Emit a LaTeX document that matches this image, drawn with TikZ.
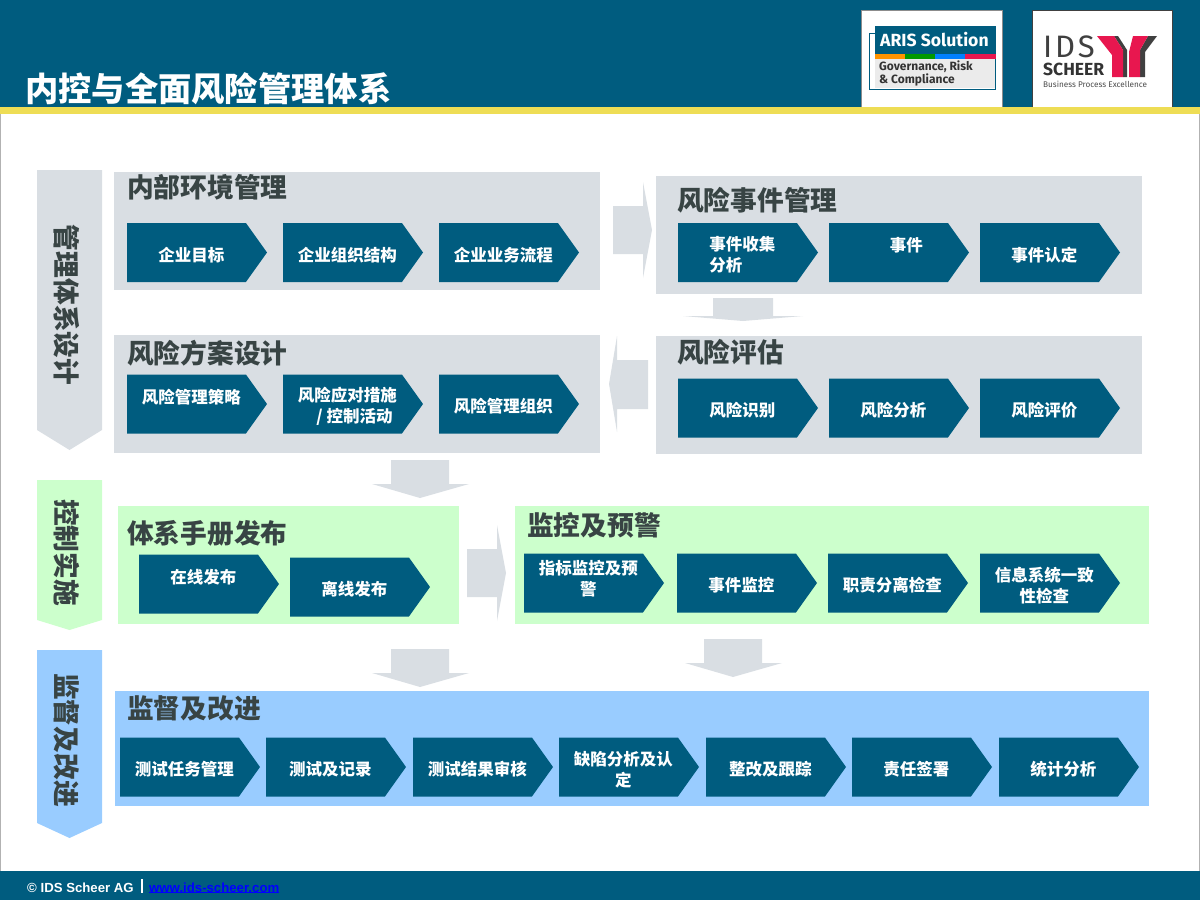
\documentclass[tikz,border=0pt]{standalone}
\usepackage{fontspec}
\setmainfont{Noto Sans CJK SC}
\newfontfamily\latinfont{Liberation Sans}
\newfontfamily\logofont{Fira Sans}
\newfontfamily\idsfont[LetterSpace=9]{Fira Sans}
\usetikzlibrary{shapes.symbols}
\definecolor{teal}{HTML}{005C7F}
\definecolor{palegray}{HTML}{D9DEE3}
\definecolor{palegreen}{HTML}{CCFFCC}
\definecolor{paleblue}{HTML}{99CCFF}
\definecolor{barline}{HTML}{EEDD55}
\definecolor{headtext}{HTML}{384444}
\definecolor{logopink}{HTML}{E8174F}
\tikzset{
	stepbox/.style={shape=signal,signal to=east,signal from=nowhere,signal pointer angle=109,fill=teal,text=white,anchor=west,
		minimum width=140pt,minimum height=59pt,inner sep=0pt,outer sep=0pt,text width=110pt,align=flush center,
		font=\fontsize{16.5}{21}\selectfont\bfseries,execute at begin node={\leftskip=10pt plus 1fil\rule{0pt}{19pt}}},
	headline/.style={anchor=west,inner sep=0pt,text=headtext,font=\fontsize{26.7}{30}\selectfont\bfseries},
	sidelabel/.style={rotate=-90,inner sep=0pt,text=headtext,font=\fontsize{26.7}{30}\selectfont\bfseries}
}
\begin{document}
\begin{tikzpicture}[x=1pt,y=-1pt]
	\useasboundingbox (0,0) rectangle (1200,900);
	% top and bottom bars
	\fill [teal] (0,0) rectangle (1200,107);
	\fill [barline] (0,107) rectangle (1200,114);
	\fill [teal] (0,871) rectangle (1200,900);
	\draw [black!30] (0.5,114) -- (0.5,871);
	\draw [black!30] (1199.5,114) -- (1199.5,871);
	\node (title) [anchor=west,inner sep=0pt,text=white,font=\fontsize{33.3}{36}\selectfont\bfseries] at (25,89) {内控与全面风险管理体系};
	
	% logos
	\fill [white] (861,10) rectangle (1002,107);
	\draw [black!45] (861,107) -- (861,10) -- (1002,10) -- (1002,107);
	\fill [white] (1032,10) rectangle (1172,107);
	\draw [black!75] (1032,107) -- (1032,10) -- (1172,10) -- (1172,107);
	\draw [teal,fill=white] (869,33) rectangle (995,89);
	\fill [teal] (875,26) rectangle (996,54);
	\fill [orange!85!yellow] (875,54) rectangle (905,59);
	\fill [green!60!black] (905,54) rectangle (935,59);
	\fill [blue!50!cyan] (935,54) rectangle (965,59);
	\fill [logopink] (965,54) rectangle (996,59);
	\fill [black!8] (875,59) rectangle (995,88);
	\node (aris) [anchor=west,inner sep=0pt,text=white,font=\logofont\fontsize{17.6}{18}\selectfont\bfseries] at (880,40) {ARIS Solution};
	\node (grc) [anchor=north west,inner sep=0pt,text=black!80,align=left,font=\logofont\fontsize{12}{13}\selectfont\bfseries] at (879,61) {Governance, Risk\\\& Compliance};
	\node (ids) [anchor=south west,inner sep=0pt,text height=21pt,text depth=0pt,text=black!75,font=\idsfont\fontsize{31}{31}\selectfont] at (1043,58) {IDS};
	\node (scheer) [anchor=north west,inner sep=0pt,text height=12pt,text depth=0pt,text=black!80,font=\logofont\fontsize{17.5}{18}\selectfont\bfseries] at (1043,63) {SCHEER};
	\node (bpe) [anchor=west,inner sep=0pt,text=black!70,font=\logofont\fontsize{8.2}{9}\selectfont] at (1043,84) {Business Process Excellence};
	\fill [black!75] (1114,36) -- (1118,36) -- (1127,50) -- (1127,77) -- (1123,77) -- (1123,50) -- cycle;
	\fill [black!75] (1148,36) -- (1157,36) -- (1145,52) -- (1145,77) -- (1140,77) -- (1140,50) -- cycle;
	\fill [logopink] (1097,36) -- (1114,36) -- (1123,50) -- (1123,77) -- (1112,77) -- (1112,55) -- cycle;
	\fill [logopink] (1133,36) -- (1148,36) -- (1140,50) -- (1140,77) -- (1129,77) -- (1129,52) -- cycle;
	
	% side arrows
	\fill [palegray] (37,170) -- (102,170) -- (102,430) -- (69.5,450) -- (37,430) -- cycle;
	\fill [palegreen] (37,480) -- (102,480) -- (102,620) -- (69.5,630) -- (37,620) -- cycle;
	\fill [paleblue] (37,650) -- (102,650) -- (102,823) -- (69.5,838) -- (37,823) -- cycle;
	\node (s1) [sidelabel] at (67,305) {管理体系设计};
	\node (s2) [sidelabel] at (67,552.5) {控制实施};
	\node (s3) [sidelabel] at (67,740) {监督及改进};
	
	% panels
	\fill [palegray] (114,172) rectangle (600,290);
	\fill [palegray] (656,176) rectangle (1142,294);
	\fill [palegray] (114,335) rectangle (600,453);
	\fill [palegray] (656,336) rectangle (1142,454);
	\fill [palegreen] (118,506) rectangle (459,624);
	\fill [palegreen] (515,506) rectangle (1149,624);
	\fill [paleblue] (115,691) rectangle (1149,806);
	
	% block arrows
	\fill [palegray] (613,206) -- (643,206) -- (643,182) -- (652,230) -- (643,278) -- (643,254) -- (613,254) -- cycle;
	\fill [palegray] (713,298) -- (773,298) -- (773,316) -- (803,316) -- (743,321) -- (683,316) -- (713,316) -- cycle;
	\fill [palegray] (648,360) -- (617,360) -- (617,336) -- (609,384) -- (617,432) -- (617,409) -- (648,409) -- cycle;
	\fill [palegray] (391,460) -- (449,460) -- (449,484) -- (469,484) -- (420,498) -- (372,484) -- (391,484) -- cycle;
	\fill [palegray] (467,549) -- (497,549) -- (497,525) -- (506,573) -- (497,621) -- (497,597) -- (467,597) -- cycle;
	\fill [palegray] (391,649) -- (449,649) -- (449,673) -- (469,673) -- (420,687) -- (372,673) -- (391,673) -- cycle;
	\fill [palegray] (704,639) -- (762,639) -- (762,663) -- (782,663) -- (733,677) -- (685,663) -- (704,663) -- cycle;
	
	% headings
	\node (h1) [headline] at (127,187) {内部环境管理};
	\node (h2) [headline] at (677,200) {风险事件管理};
	\node (h3) [headline] at (127,353) {风险方案设计};
	\node (h4) [headline] at (677,352) {风险评估};
	\node (h5) [headline] at (127,533) {体系手册发布};
	\node (h6) [headline] at (527,525) {监控及预警};
	\node (h7) [headline] at (127,708) {监督及改进};
	
	% steps
	\node (a1) [stepbox] at (127,252.5) {企业目标};
	\node (a2) [stepbox] at (283,252.5) {企业组织结构};
	\node (a3) [stepbox] at (439,252.5) {企业业务流程};
	\node (b1) [stepbox] at (678,252.5) {事件收集\\分析\hspace*{2em}};
	\node (b2) [stepbox] at (829,252.5) {\hspace*{26pt}事件\\\mbox{}};
	\node (b3) [stepbox] at (980,252.5) {事件认定};
	\node (c1) [stepbox] at (127,404) {风险管理策略\\\mbox{}};
	\node (c2) [stepbox] at (283,404) {风险应对措施\\\hspace*{14pt}/ 控制活动};
	\node (c3) [stepbox] at (439,404) {风险管理组织};
	\node (d1) [stepbox] at (678,408) {风险识别};
	\node (d2) [stepbox] at (829,408) {风险分析};
	\node (d3) [stepbox] at (980,408) {风险评价};
	\node (e1) [stepbox] at (139,584) {在线发布\\\mbox{}};
	\node (e2) [stepbox] at (290,587) {离线发布};
	\node (f1) [stepbox] at (524,583) {指标监控及预\\警\\[-5pt]\mbox{}};
	\node (f2) [stepbox] at (677,583) {事件监控};
	\node (f3) [stepbox] at (828,583) {职责分离检查};
	\node (f4) [stepbox] at (980,583) {信息系统一致\\性检查};
	\node (g1) [stepbox] at (120,767) {测试任务管理};
	\node (g2) [stepbox] at (266,767) {测试及记录};
	\node (g3) [stepbox] at (413,767) {测试结果审核};
	\node (g4) [stepbox] at (559,767) {缺陷分析及认\\定};
	\node (g5) [stepbox] at (706,767) {整改及跟踪};
	\node (g6) [stepbox] at (852,767) {责任签署};
	\node (g7) [stepbox] at (999,767) {统计分析};
	
	% footer
	\node (copy) [anchor=west,inner sep=0pt,text=white,font=\latinfont\fontsize{13.2}{14}\selectfont\bfseries] at (27,888) {© IDS Scheer AG};
	\node (link) [anchor=west,inner sep=0pt,text=blue,font=\latinfont\fontsize{13.2}{14}\selectfont\bfseries] at (149,888) {www.ids-scheer.com};
	\draw [blue,line width=1pt] ([yshift=1pt]link.south west) -- ([yshift=1pt]link.south east);
	\draw [white,line width=1.5pt] (142,879) -- (142,893);
\end{tikzpicture}
\end{document}
